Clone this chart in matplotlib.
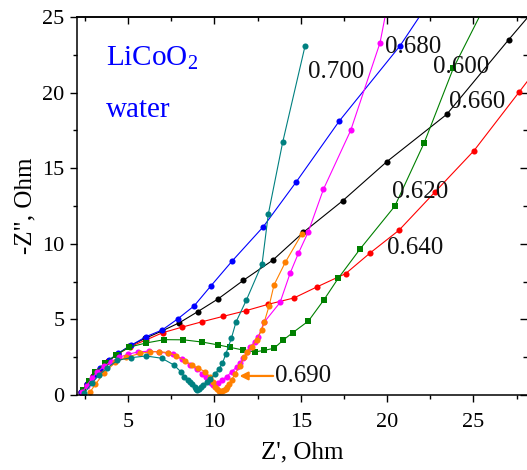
import matplotlib
matplotlib.use("Agg")
import matplotlib.pyplot as plt
from matplotlib.ticker import MultipleLocator

plt.rcParams['font.family'] = ['Liberation Serif', 'DejaVu Serif']
plt.rcParams['mathtext.fontset'] = 'custom'
plt.rcParams['mathtext.rm'] = 'Liberation Serif'
plt.rcParams['mathtext.it'] = 'Liberation Serif:italic'

# ---- data (Z', -Z'') ----
blue_x = [2.3, 2.6, 3.0, 3.4, 3.9, 4.4, 5.17, 6.04, 6.97, 7.87, 8.82, 9.79, 11.04, 12.83, 14.74, 17.23, 20.75, 23.2]
blue_y = [0.2, 0.7, 1.3, 1.8, 2.3, 2.75, 3.28, 3.86, 4.3, 5.03, 5.89, 7.21, 8.88, 11.13, 14.1, 18.12, 23.1, 27.3]

black_x = [2.3, 2.6, 2.95, 3.35, 3.85, 4.4, 5.07, 6.0, 6.95, 7.97, 9.03, 10.23, 11.67, 13.37, 15.15, 17.43, 19.98, 23.45, 27.04, 29.5]
black_y = [0.2, 0.7, 1.25, 1.75, 2.25, 2.7, 3.24, 3.75, 4.23, 4.78, 5.51, 6.37, 7.58, 8.91, 10.76, 12.85, 15.43, 18.56, 23.5, 26.8]

red_x = [2.3, 2.6, 2.95, 3.35, 3.85, 4.4, 5.11, 6.04, 7.0, 8.1, 9.3, 10.5, 11.8, 13.12, 14.61, 15.92, 17.6, 19.01, 20.69, 22.75, 25.03, 27.66, 29.5]
red_y = [0.2, 0.7, 1.25, 1.75, 2.25, 2.7, 3.2, 3.64, 4.12, 4.48, 4.85, 5.2, 5.57, 6.0, 6.42, 7.14, 8.03, 9.39, 10.9, 13.4, 16.16, 20.06, 22.8]

green_x = [2.37, 2.76, 3.1, 3.68, 4.3, 5.07, 6.04, 7.1, 8.2, 9.3, 10.23, 10.9, 11.64, 12.35, 12.87, 13.45, 13.99, 14.53, 15.44, 16.33, 17.17, 18.45, 20.45, 22.15, 23.83, 25.6]
green_y = [0.33, 0.9, 1.55, 2.1, 2.65, 3.17, 3.44, 3.66, 3.65, 3.5, 3.31, 3.15, 2.98, 2.85, 2.95, 3.09, 3.64, 4.12, 4.89, 6.28, 7.72, 9.68, 12.5, 16.69, 21.6, 25.6]

magenta_x = [2.35, 2.6, 2.9, 3.2, 3.6, 4.0, 4.5, 5.0, 5.6, 6.2, 6.8, 7.3, 7.62, 8.1, 8.59, 8.97, 9.3, 9.5, 9.65, 9.8, 9.9, 10.05, 10.2, 10.42, 10.71, 11.0, 11.29, 11.48, 11.67, 11.9, 12.06, 12.35, 12.54, 12.87, 13.8, 14.38, 14.86, 15.43, 16.31, 17.89, 19.59, 20.3]
magenta_y = [0.2, 0.6, 1.1, 1.5, 1.9, 2.2, 2.5, 2.7, 2.85, 2.9, 2.85, 2.75, 2.69, 2.36, 1.98, 1.7, 1.4, 1.2, 1.0, 0.8, 0.68, 0.66, 0.8, 0.99, 1.21, 1.54, 1.87, 2.09, 2.42, 2.87, 3.2, 3.53, 3.86, 4.8, 6.12, 8.05, 9.37, 10.78, 13.6, 17.5, 23.3, 27.5]

orange_x = [2.8, 3.1, 3.6, 4.25, 4.9, 5.7, 6.25, 6.8, 7.33, 7.8, 8.3, 8.68, 9.07, 9.46, 9.75, 9.94, 10.05, 10.15, 10.25, 10.35, 10.45, 10.55, 10.65, 10.75, 10.87, 11.0, 11.19, 11.48, 11.71, 11.9, 12.16, 12.45, 12.74, 12.89, 13.16, 13.45, 14.1, 15.07]
orange_y = [0.2, 0.7, 1.45, 2.15, 2.5, 2.75, 2.85, 2.87, 2.8, 2.6, 2.25, 2.0, 1.76, 1.55, 1.2, 0.85, 0.55, 0.38, 0.28, 0.24, 0.25, 0.3, 0.4, 0.55, 0.75, 1.0, 1.4, 1.95, 2.49, 2.87, 3.2, 3.64, 4.3, 4.85, 5.87, 7.28, 8.77, 10.67]

teal_x = [2.45, 2.9, 3.3, 3.8, 4.38, 5.17, 6.04, 6.95, 7.66, 8.05, 8.26, 8.45, 8.59, 8.72, 8.85, 8.95, 9.01, 9.1, 9.2, 9.36, 9.55, 9.75, 10.03, 10.25, 10.46, 10.65, 10.98, 11.25, 11.85, 12.76, 13.12, 13.95, 15.25]
teal_y = [0.11, 0.77, 1.3, 1.8, 2.29, 2.47, 2.58, 2.43, 1.98, 1.54, 1.21, 1.0, 0.88, 0.7, 0.5, 0.38, 0.33, 0.42, 0.52, 0.66, 0.85, 1.04, 1.37, 1.72, 2.09, 2.69, 3.75, 4.83, 6.28, 8.69, 11.97, 16.71, 23.1]

labels = ["0.700", "0.680", "0.600", "0.660", "0.620", "0.640", "0.690"]
label_x = [15.42, 19.88, 22.66, 23.58, 20.26, 19.99, 13.51]
label_y = [21.36, 23.03, 21.7, 19.4, 13.45, 9.7, 1.26]

x_ticks = [5, 10, 15, 20, 25]
y_ticks = [0, 5, 10, 15, 20, 25]

fig = plt.figure(figsize=(5.27, 4.70), dpi=100)
ax = fig.add_axes([77 / 527, 75 / 470, 450 / 527, 378 / 470])

series = [
    (black_x, black_y, '#000000', 'o', 4.4),
    (red_x, red_y, '#FF0000', 'o', 4.4),
    (blue_x, blue_y, '#0000FF', 'o', 4.4),
    (green_x, green_y, '#008000', 's', 4.2),
    (magenta_x, magenta_y, '#FF00FF', 'o', 4.4),
    (orange_x, orange_y, '#FF8000', 'o', 4.4),
    (teal_x, teal_y, '#008080', 'o', 4.4),
]
for xs, ys, c, m, ms in series:
    ax.plot(xs, ys, color=c, marker=m, markersize=ms, linewidth=0.8,
            markeredgewidth=0, clip_on=True)

for t, lx, ly in zip(labels, label_x, label_y):
    ax.text(lx, ly, t, fontsize=18, ha='left', va='center', color='#111111')

ax.annotate('', xy=(11.45, 1.26), xytext=(13.4, 1.26),
            arrowprops=dict(arrowstyle='-|>', color='#FF8000', lw=1.6,
                            mutation_scale=12, shrinkA=0, shrinkB=0))

ax.text(3.72, 21.8, r'LiCoO$_2$', fontsize=21, color='#0000FF', ha='left', va='baseline')
ax.text(3.72, 18.4, 'water', fontsize=21, color='#0000FF', ha='left', va='baseline')

ax.set_xlim(2.04, 28.1)
ax.set_ylim(0, 25)
ax.set_xticks(x_ticks)
ax.set_yticks(y_ticks)
ax.xaxis.set_minor_locator(MultipleLocator(2.5))
ax.yaxis.set_minor_locator(MultipleLocator(2.5))
ax.tick_params(axis='both', which='major', direction='out', length=5, width=1, labelsize=16)
ax.tick_params(axis='x', which='major', pad=8)
ax.tick_params(axis='y', which='major', pad=4)
ax.tick_params(axis='both', which='minor', direction='out', length=3, width=1)
for s in ['left', 'bottom', 'top']:
    ax.spines[s].set_linewidth(1.1)
ax.spines['right'].set_visible(False)

secx = ax.secondary_xaxis('top')
secx.set_xticks(x_ticks)
secx.xaxis.set_minor_locator(MultipleLocator(2.5))
secx.tick_params(axis='x', which='major', direction='in', length=5, width=1, labeltop=False)
secx.tick_params(axis='x', which='minor', direction='in', length=3, width=1)
secx.spines['top'].set_linewidth(1.1)

secy = ax.secondary_yaxis('right')
secy.set_yticks(y_ticks)
secy.yaxis.set_minor_locator(MultipleLocator(2.5))
secy.tick_params(axis='y', which='major', direction='in', length=5, width=1, labelright=False)
secy.tick_params(axis='y', which='minor', direction='in', length=3, width=1)
secy.spines['right'].set_visible(False)

ax.set_xlabel("Z', Ohm", fontsize=18, labelpad=7)
ax.set_ylabel('-Z", Ohm', fontsize=18, labelpad=4)

fig.savefig('out.png', dpi=100)
